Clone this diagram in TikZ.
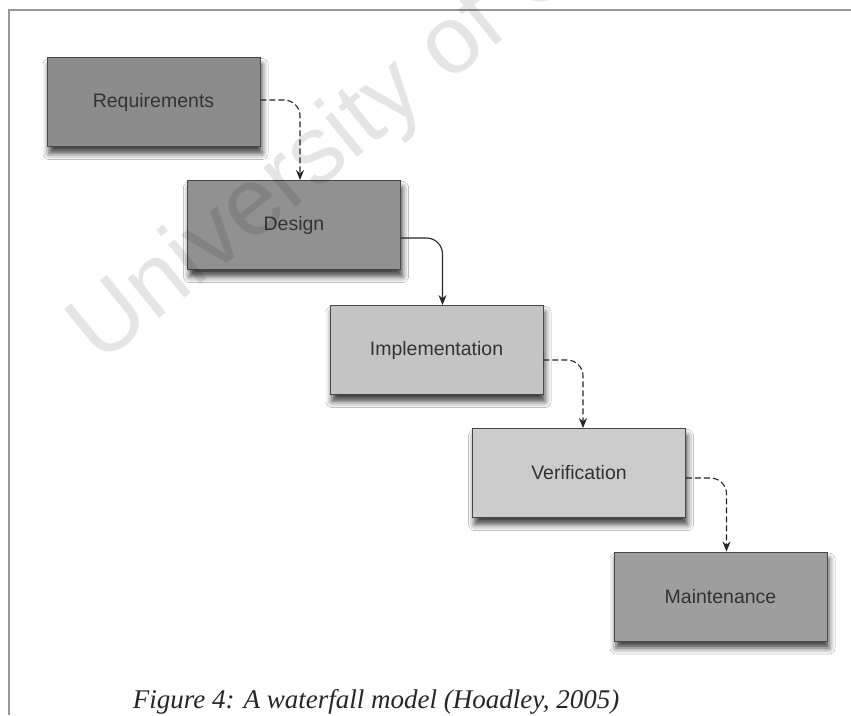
\documentclass[tikz,border=0pt]{standalone}
\usepackage{fontspec}
\setmainfont{Liberation Serif}
\setsansfont{Liberation Sans}
\usetikzlibrary{arrows.meta,shadows.blur,calc}

\begin{document}
\begin{tikzpicture}[x=1pt,y=-1pt,
  stage/.style={draw=black!72, line width=0.9pt, minimum width=213pt,
    minimum height=89pt, inner sep=0pt,
    font=\sffamily\fontsize{19.5}{22}\selectfont, text=black!80,
    blur shadow={shadow xshift=2pt, shadow yshift=-7pt,
      shadow blur radius=6pt, shadow opacity=75}},
  conn/.style={draw=black!85, line width=1.1pt, rounded corners=16pt,
    -{Stealth[length=10pt,width=8pt]}},
  dashconn/.style={conn, dash pattern=on 6pt off 3pt}
]
\useasboundingbox (0,0) rectangle (851,715);
\fill[white] (0,0) rectangle (851,715);

% frame
\draw[black!40, line width=1.6pt] (9,715) -- (9,10) -- (851,10);

% process stages
\node[stage, fill=black!45] (req) at (153.5,102) {Requirements};
\node[stage, fill=black!43] (des) at (294,225) {Design};
\node[stage, fill=black!23] (imp) at (436.5,350) {Implementation};
\node[stage, fill=black!20] (ver) at (579,473) {Verification};
\node[stage, fill=black!38] (mai) at (720.5,596.5) {Maintenance};

% flow between stages
\draw[dashconn] ($(req.east)+(0,-2)$) -| ($(des.north)+(6,0)$);
\draw[conn]     ($(des.east)+(0,13)$) -| ($(imp.north)+(6,0)$);
\draw[dashconn] ($(imp.east)+(0,10)$) -| ($(ver.north)+(4,0)$);
\draw[dashconn] ($(ver.east)+(0,5)$)  -| ($(mai.north)+(6,0)$);

% caption
\node[anchor=base, font=\itshape\fontsize{27}{30}\selectfont, text=black!85]
  (cap) at (376,708) {Figure 4: A waterfall model (Hoadley, 2005)};

% watermark
\begin{scope}
  \clip (0,0) rectangle (851,715);
  \node[anchor=base west, rotate=39, font=\sffamily\fontsize{96}{100}\selectfont,
    text=black, opacity=0.1, inner sep=0pt] (wm) at (100,366) {University of Cape Town};
\end{scope}
\end{tikzpicture}
\end{document}
